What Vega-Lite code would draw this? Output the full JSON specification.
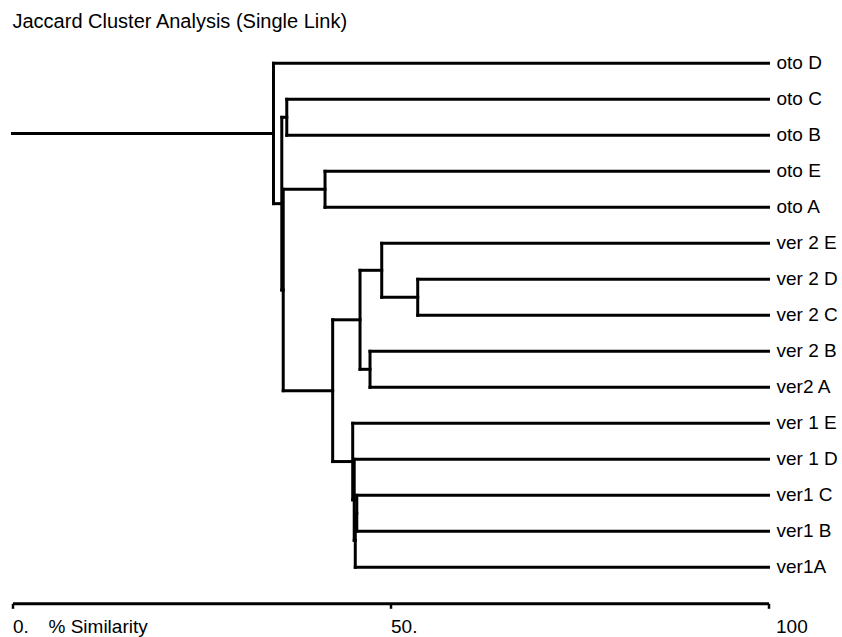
{
  "$schema": "https://vega.github.io/schema/vega-lite/v6.json",
  "width": 756,
  "height": 540,
  "autosize": "none",
  "padding": {"left": 12.5, "top": 63.3, "right": 73.5, "bottom": 33.7},
  "background": "white",
  "title": {
    "text": "Jaccard Cluster Analysis (Single Link)",
    "anchor": "start",
    "frame": "group",
    "font": "Liberation Sans",
    "fontSize": 20,
    "fontWeight": "normal",
    "color": "black",
    "baseline": "alphabetic",
    "offset": 6
  },
  "datasets": {
    "segs": [
      {"x": 34.52, "x2": 100, "y": 0, "y2": 0},
      {"x": 36.28, "x2": 100, "y": 1, "y2": 1},
      {"x": 36.28, "x2": 100, "y": 2, "y2": 2},
      {"x": 41.34, "x2": 100, "y": 3, "y2": 3},
      {"x": 41.34, "x2": 100, "y": 4, "y2": 4},
      {"x": 48.84, "x2": 100, "y": 5, "y2": 5},
      {"x": 53.6, "x2": 100, "y": 6, "y2": 6},
      {"x": 53.6, "x2": 100, "y": 7, "y2": 7},
      {"x": 47.29, "x2": 100, "y": 8, "y2": 8},
      {"x": 47.29, "x2": 100, "y": 9, "y2": 9},
      {"x": 45.0, "x2": 100, "y": 10, "y2": 10},
      {"x": 45.2, "x2": 100, "y": 11, "y2": 11},
      {"x": 45.54, "x2": 100, "y": 12, "y2": 12},
      {"x": 45.54, "x2": 100, "y": 13, "y2": 13},
      {"x": 45.34, "x2": 100, "y": 14, "y2": 14},
      {"x": 35.62, "x2": 36.28, "y": 1.5, "y2": 1.5},
      {"x": 35.81, "x2": 41.34, "y": 3.5, "y2": 3.5},
      {"x": 48.84, "x2": 53.6, "y": 6.5, "y2": 6.5},
      {"x": 45.97, "x2": 48.84, "y": 5.75, "y2": 5.75},
      {"x": 45.97, "x2": 47.29, "y": 8.5, "y2": 8.5},
      {"x": 42.35, "x2": 45.97, "y": 7.125, "y2": 7.125},
      {"x": 45.34, "x2": 45.54, "y": 12.5, "y2": 12.5},
      {"x": 45.2, "x2": 45.34, "y": 13.25, "y2": 13.25},
      {"x": 45.0, "x2": 45.2, "y": 12.125, "y2": 12.125},
      {"x": 42.35, "x2": 45.0, "y": 11.0625, "y2": 11.0625},
      {"x": 35.81, "x2": 42.35, "y": 9.09375, "y2": 9.09375},
      {"x": 35.62, "x2": 35.81, "y": 6.296875, "y2": 6.296875},
      {"x": 34.52, "x2": 35.62, "y": 3.8984, "y2": 3.8984},
      {"x": 0, "x2": 34.52, "y": 1.9492, "y2": 1.9492},
      {"x": 34.52, "x2": 34.52, "y": 0, "y2": 3.8984},
      {"x": 35.62, "x2": 35.62, "y": 1.5, "y2": 6.296875},
      {"x": 35.81, "x2": 35.81, "y": 3.5, "y2": 9.09375},
      {"x": 36.28, "x2": 36.28, "y": 1, "y2": 2},
      {"x": 41.34, "x2": 41.34, "y": 3, "y2": 4},
      {"x": 42.35, "x2": 42.35, "y": 7.125, "y2": 11.0625},
      {"x": 45.97, "x2": 45.97, "y": 5.75, "y2": 8.5},
      {"x": 48.84, "x2": 48.84, "y": 5, "y2": 6.5},
      {"x": 53.6, "x2": 53.6, "y": 6, "y2": 7},
      {"x": 47.29, "x2": 47.29, "y": 8, "y2": 9},
      {"x": 45.0, "x2": 45.0, "y": 10, "y2": 12.125},
      {"x": 45.2, "x2": 45.2, "y": 11, "y2": 13.25},
      {"x": 45.34, "x2": 45.34, "y": 12.5, "y2": 14},
      {"x": 45.54, "x2": 45.54, "y": 12, "y2": 13}
    ],
    "leaves": [
      {"name": "oto D", "x": 100, "y": 0},
      {"name": "oto C", "x": 100, "y": 1},
      {"name": "oto B", "x": 100, "y": 2},
      {"name": "oto E", "x": 100, "y": 3},
      {"name": "oto A", "x": 100, "y": 4},
      {"name": "ver 2 E", "x": 100, "y": 5},
      {"name": "ver 2 D", "x": 100, "y": 6},
      {"name": "ver 2 C", "x": 100, "y": 7},
      {"name": "ver 2 B", "x": 100, "y": 8},
      {"name": "ver2 A", "x": 100, "y": 9},
      {"name": "ver 1 E", "x": 100, "y": 10},
      {"name": "ver 1 D", "x": 100, "y": 11},
      {"name": "ver1 C", "x": 100, "y": 12},
      {"name": "ver1 B", "x": 100, "y": 13},
      {"name": "ver1A", "x": 100, "y": 14}
    ]
  },
  "encoding": {
    "x": {
      "field": "x",
      "type": "quantitative",
      "scale": {"domain": [0, 100], "nice": false, "zero": false},
      "axis": {
        "values": [0, 50, 100],
        "labelExpr": "datum.value == 0 ? '0.' : datum.value == 50 ? '50.' : '100'",
        "labelAlign": "left",
        "labelBaseline": "alphabetic",
        "labelPadding": 24,
        "labelOffset": {"condition": {"test": "datum.value == 100", "value": 7}, "value": 0},
        "labelFlush": false,
        "labelOverlap": false,
        "labelFont": "Liberation Sans",
        "labelFontSize": 19,
        "labelColor": "black",
        "domainColor": "black",
        "domainWidth": 3,
        "tickColor": "black",
        "tickWidth": 2.5,
        "tickSize": 5,
        "grid": false,
        "title": "% Similarity",
        "titleX": 35.5,
        "titleY": 29.4,
        "titleAlign": "left",
        "titleBaseline": "alphabetic",
        "titleFont": "Liberation Sans",
        "titleFontSize": 19,
        "titleFontWeight": "normal",
        "titleColor": "black"
      }
    },
    "y": {
      "field": "y",
      "type": "quantitative",
      "scale": {"domain": [0, 15], "reverse": true, "nice": false, "zero": false},
      "axis": null
    }
  },
  "layer": [
    {
      "data": {"name": "segs"},
      "mark": {"type": "rule", "color": "black", "strokeWidth": 3, "strokeCap": "square"},
      "encoding": {
        "x2": {"field": "x2"},
        "y2": {"field": "y2"}
      }
    },
    {
      "data": {"name": "leaves"},
      "mark": {"type": "text", "align": "left", "baseline": "middle", "dx": 8, "font": "Liberation Sans", "fontSize": 19, "color": "black"},
      "encoding": {
        "text": {"field": "name"}
      }
    }
  ],
  "config": {"view": {"stroke": null}}
}
